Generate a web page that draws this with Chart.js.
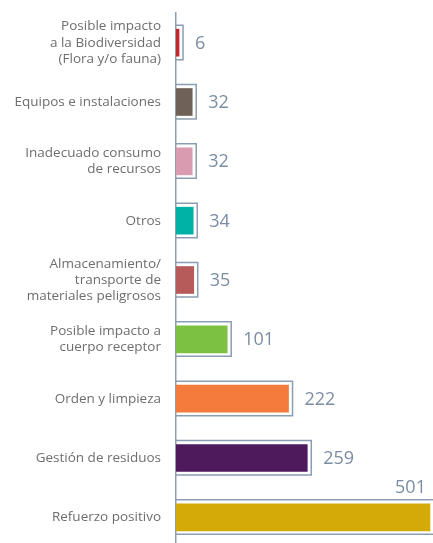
<!DOCTYPE html>
<html>
<head>
<meta charset="utf-8">
<script src="https://cdn.jsdelivr.net/npm/chart.js@4"></script>
<style>
    html, body { margin: 0; padding: 0; background: #fff; overflow: hidden; }
    #wrap { width: 433px; height: 547px; }
</style>
</head>
<body>
<div id="wrap"><canvas id="barChart"></canvas></div>
<script>
// Categories (top to bottom)
const categories = [
    ['Posible impacto', 'a la Biodiversidad', '(Flora y/o fauna)'],
    'Equipos e instalaciones',
    ['Inadecuado consumo', 'de recursos'],
    'Otros',
    ['Almacenamiento/', 'transporte de', 'materiales peligrosos'],
    ['Posible impacto a', 'cuerpo receptor'],
    'Orden y limpieza',
    'Gestión de residuos',
    'Refuerzo positivo'
];

// Number of reports per category
const counts = [6, 32, 32, 34, 35, 101, 222, 259, 501];

const barColors = [
    '#c1272d', '#6f6157', '#d99bb0', '#00b2a6', '#b75a5a',
    '#7cc142', '#f47b3b', '#4f1a5b', '#d4aa08'
];

const frameColor = '#8b9db3';
const valueColor = '#7b8da4';

// Outline box drawn a little outside each bar, plus the value labels
const frameBars = {
    id: 'frameBars',
    beforeDatasetsDraw(chart) {
        const ctx = chart.ctx;
        const meta = chart.getDatasetMeta(0);
        ctx.save();
        ctx.strokeStyle = frameColor;
        ctx.lineWidth = 1.5;
        meta.data.forEach(bar => {
            const top = bar.y - bar.height / 2 - 4;
            const bottom = bar.y + bar.height / 2 + 3.5;
            const right = bar.x + 4;
            ctx.beginPath();
            ctx.moveTo(bar.base, top);
            ctx.lineTo(right, top);
            ctx.lineTo(right, bottom);
            ctx.lineTo(bar.base, bottom);
            ctx.stroke();
        });
        ctx.restore();
    },
    afterDatasetsDraw(chart) {
        const ctx = chart.ctx;
        const meta = chart.getDatasetMeta(0);
        const area = chart.chartArea;
        ctx.save();
        ctx.fillStyle = valueColor;
        ctx.font = '18px "Open Sans"';
        ctx.textBaseline = 'middle';
        meta.data.forEach((bar, i) => {
            const text = String(counts[i]);
            const w = ctx.measureText(text).width;
            if (bar.x + 18 + w > area.right) {
                ctx.textAlign = 'right';
                ctx.fillText(text, bar.x - 4, bar.y - bar.height / 2 - 16);
            } else {
                ctx.textAlign = 'left';
                ctx.fillText(text, bar.x + 16, bar.y + 1);
            }
        });
        ctx.restore();
    }
};

new Chart(document.getElementById('barChart'), {
    type: 'bar',
    data: {
        labels: categories,
        datasets: [{
            data: counts,
            backgroundColor: barColors,
            borderWidth: 0,
            barThickness: 27
        }]
    },
    options: {
        indexAxis: 'y',
        responsive: true,
        maintainAspectRatio: false,
        animation: false,
        layout: { padding: { top: 13, right: 0, bottom: 0, left: 0 } },
        scales: {
            x: {
                display: false,
                min: 0,
                max: 507
            },
            y: {
                afterFit: function (scale) {
                    scale.width = 176;
                    scale.paddingTop = 0;
                    scale.paddingBottom = 0;
                },
                grid: {
                    display: false,
                    drawTicks: false
                },
                border: {
                    display: true,
                    color: frameColor,
                    width: 1.5
                },
                ticks: {
                    padding: 15,
                    color: '#6e6e6e',
                    font: {
                        size: 13.5,
                        family: 'Open Sans',
                        lineHeight: 1.2
                    }
                }
            }
        },
        plugins: {
            legend: { display: false },
            tooltip: { enabled: false }
        }
    },
    plugins: [frameBars]
});
</script>
</body>
</html>
